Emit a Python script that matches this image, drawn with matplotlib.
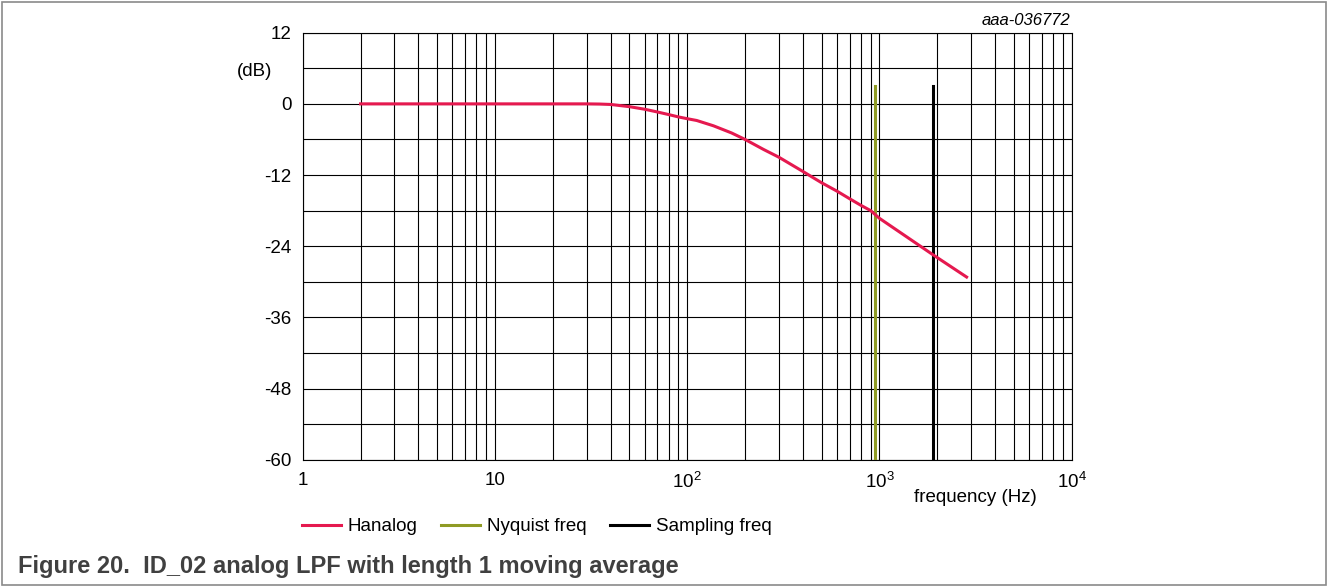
import numpy as np
import matplotlib
matplotlib.use('Agg')
import matplotlib.pyplot as plt
import matplotlib.ticker as tck
from matplotlib.patches import Rectangle

plt.rcParams['font.family'] = ['Liberation Sans', 'DejaVu Sans']
plt.rcParams['mathtext.fontset'] = 'custom'
plt.rcParams['mathtext.rm'] = 'Liberation Sans'
plt.rcParams['axes.unicode_minus'] = False

# Hanalog response
freq = [2, 5, 10, 20, 30, 35, 40, 50, 60, 70, 80, 90, 100, 112, 137, 170, 200,
        250, 300, 400, 500, 600, 700, 800, 900, 1000, 1890, 2840]
gain_db = [0, 0, 0, 0, 0, -0.03, -0.1, -0.47, -0.9, -1.37, -1.8, -2.2, -2.5,
           -2.8, -3.7, -4.9, -6.0, -7.7, -9.0, -11.4, -13.3, -14.7, -16.0, -17.1,
           -18.0, -19.3, -25.4, -29.2]

nyquist_f = 945
sampling_f = 1890
marker_top = 3     # dB
marker_bottom = -60

yticks = [12, 0, -12, -24, -36, -48, -60]
xticks = [1, 10, 100, 1000, 10000]
xticklabels = ['1', '10', r'$\mathregular{10^{2}}$', r'$\mathregular{10^{3}}$', r'$\mathregular{10^{4}}$']

W, H = 1328, 587
fs = 13.5
fig = plt.figure(figsize=(W / 100, H / 100), dpi=100)
ax = fig.add_axes([302.7 / W, 1 - 459.7 / H, (1071.7 - 302.7) / W, (459.7 - 32.7) / H])

ax.set_xscale('log')
ax.set_xlim(1, 1e4)
ax.set_ylim(-60, 12)

ax.xaxis.set_major_locator(tck.FixedLocator(xticks))
ax.xaxis.set_minor_locator(tck.LogLocator(base=10, subs=np.arange(2, 10)))
ax.xaxis.set_minor_formatter(tck.NullFormatter())
ax.set_xticklabels(xticklabels)
ax.set_yticks(yticks)
ax.set_yticklabels([str(v) for v in yticks])
ax.yaxis.set_minor_locator(tck.MultipleLocator(6))

ax.grid(True, which='both', color='black', linewidth=0.8)
ax.tick_params(which='both', length=0, labelsize=fs)
ax.tick_params(axis='x', pad=9)
ax.tick_params(axis='y', pad=8)
for s in ax.spines.values():
    s.set_linewidth(0.8)

ax.plot(freq, gain_db, color='#e5194f', linewidth=2.2, label='Hanalog', zorder=4)
ax.plot([nyquist_f, nyquist_f], [marker_bottom, marker_top], color='#8f9b24',
        linewidth=2.2, label='Nyquist freq', zorder=3)
ax.plot([sampling_f, sampling_f], [marker_bottom, marker_top], color='black',
        linewidth=2.2, label='Sampling freq', zorder=3)

fig.text(272 / W, 1 - 72 / H, '(dB)', ha='right', va='center', fontsize=fs)
fig.text(1037 / W, 1 - 498 / H, 'frequency (Hz)', ha='right', va='center', fontsize=fs)
fig.text(1070.7 / W, 1 - 20.7 / H, 'aaa-036772', ha='right', va='center',
         fontsize=12, style='italic')

fig.legend(loc='center left', bbox_to_anchor=(301.7 / W, 1 - 526.7 / H), ncol=3,
           frameon=False, fontsize=fs, handlelength=2.1, handletextpad=0.35,
           columnspacing=1.25, borderpad=0, borderaxespad=0)

fig.text(18 / W, 1 - 566 / H, 'Figure 20.  ID_02 analog LPF with length 1 moving average',
         ha='left', va='center', fontsize=17, fontweight='bold', color='#404040')

fig.patches.append(Rectangle((2 / W, 2 / H), 1 - 4 / W, 1 - 4 / H, transform=fig.transFigure,
                             fill=False, edgecolor='#8a8a8a', linewidth=1.2))

fig.savefig('out.png', dpi=100)
